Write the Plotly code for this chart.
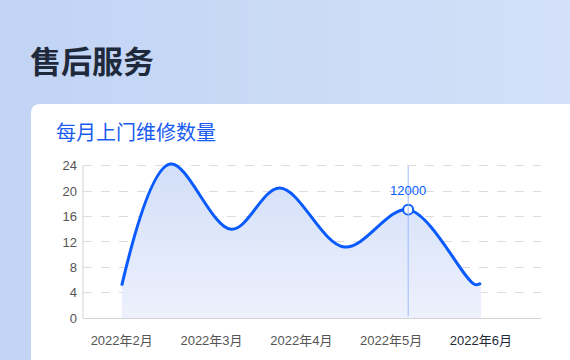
import plotly.graph_objects as go

# ---- data ----
month_pos = [2, 3, 4, 5, 6]
month_labels = ["2022年2月", "2022年3月", "2022年4月", "2022年5月", "2022年6月"]
x_vals = [2.0, 2.54, 3.22, 3.76, 4.48, 5.19, 5.93, 6.0]
y_vals = [5.1, 24.3, 14.0, 20.5, 11.2, 17.1, 5.3, 5.5]
y_ticks = [0, 4, 8, 12, 16, 20, 24]
hl_x = [5.19]
hl_y = [17.1]
hl_label = "12000"
page_title = "售后服务"
card_title = "每月上门维修数量"

W, H = 570, 360
FONT = "Liberation Sans, Noto Sans CJK SC, sans-serif"
CJK = "Noto Sans CJK SC, sans-serif"
BLUE = "#0a5bff"

fig = go.Figure()

fig.add_trace(go.Scatter(
    x=x_vals, y=y_vals, mode="lines",
    line=dict(color=BLUE, width=3, shape="spline", smoothing=1.0),
    fill="tozeroy",
    fillgradient=dict(type="vertical", start=0, stop=24,
                      colorscale=[[0, "#eef1fd"], [1, "#d2dff8"]]),
    hoverinfo="skip", showlegend=False,
))

fig.add_trace(go.Scatter(
    x=hl_x, y=hl_y, mode="markers",
    marker=dict(size=10, color="white", line=dict(color=BLUE, width=2)),
    hoverinfo="skip", showlegend=False,
))

# plot area in pixels
L, R, T, B = 83, 29, 161, 39
pw, ph = W - L - R, H - T - B
y_top = 24 * ph / 155.0

def px(x):
    return (x - L) / pw

def py(y):
    return (H - B - y) / ph

shapes = []
# background gradient strips across the whole page
n = 40
c0 = (193, 212, 245)
c1 = (211, 224, 248)
sw = (W + 4) / n
for i in range(n):
    t = i / (n - 1)
    c = tuple(int(round(c0[k] + (c1[k] - c0[k]) * t)) for k in range(3))
    shapes.append(dict(type="rect", xref="paper", yref="paper",
                       x0=px(-2 + i * sw), x1=px(-2 + (i + 1) * sw + 0.6),
                       y0=py(H + 5), y1=py(-5),
                       fillcolor="rgb(%d,%d,%d)" % c, line=dict(width=0), layer="below"))

cx, cy, r = 31, 103, 9
path = ("M %f,%f L %f,%f Q %f,%f %f,%f L %f,%f L %f,%f L %f,%f Z" % (
    px(cx), py(H + 20), px(cx), py(cy + r), px(cx), py(cy), px(cx + r), py(cy),
    px(W + 20), py(cy), px(W + 20), py(H + 20), px(cx), py(H + 20)))
shapes.append(dict(type="path", xref="paper", yref="paper", path=path,
                   fillcolor="white", line=dict(width=0), layer="below"))

# left axis line only up to the 24 gridline; highlight guide line
shapes.append(dict(type="line", xref="paper", yref="y", x0=0, x1=0, y0=0, y1=24,
                   line=dict(color="#d3d3d3", width=1), layer="below"))
shapes.append(dict(type="line", xref="x", yref="y", x0=hl_x[0], x1=hl_x[0],
                   y0=0.3, y1=24, line=dict(color="#9dbaf7", width=1), layer="above"))

ticktext = [("<span style='color:#1f2937'>%s</span>" % t) if i == len(month_labels) - 1 else t
            for i, t in enumerate(month_labels)]

fig.update_layout(
    width=W, height=H,
    margin=dict(l=L, r=R, t=T, b=B),
    paper_bgcolor="#c8d8f6", plot_bgcolor="rgba(0,0,0,0)",
    shapes=shapes,
    font=dict(family=FONT, size=13, color="#555555"),
    xaxis=dict(range=[1.569, 6.669], tickvals=month_pos, ticktext=ticktext,
               showgrid=False, zeroline=False, showline=True, linecolor="#d3d3d3",
               linewidth=1, ticks="", ticklabelstandoff=10,
               tickfont=dict(family=FONT, size=13, color="#555555"), fixedrange=True),
    yaxis=dict(range=[0, y_top], tickvals=y_ticks, showgrid=True, gridcolor="#dcdcdc",
               griddash="dash", gridwidth=1, zeroline=False, showline=False,
               ticks="", ticklabelstandoff=5,
               tickfont=dict(family=FONT, size=13, color="#555555"), fixedrange=True),
    annotations=[
        dict(x=hl_x[0], y=hl_y[0], xref="x", yref="y", text=hl_label, showarrow=False,
             yshift=19, font=dict(family=FONT, size=13, color=BLUE)),
        dict(x=px(28), y=py(58), xref="paper", yref="paper", text="<b>%s</b>" % page_title,
             showarrow=False, xanchor="left", yanchor="middle",
             font=dict(family=CJK, size=31, color="#1e2a3b")),
        dict(x=px(54), y=py(131), xref="paper", yref="paper", text=card_title,
             showarrow=False, xanchor="left", yanchor="middle",
             font=dict(family=CJK, size=20, color="#1a5cf2")),
    ],
)

fig.write_html("out.html", config={"displayModeBar": False},
               post_script="document.body.style.margin='0';document.body.style.overflow='hidden';")
